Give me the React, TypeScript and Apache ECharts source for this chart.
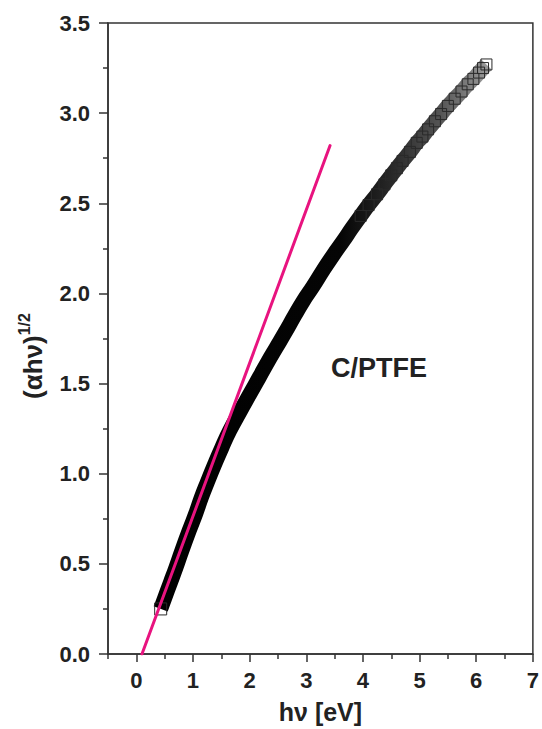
import React, { useEffect, useRef } from "react";
import * as echarts from "echarts";

// photon energy hν [eV] and (αhν)^1/2
const energy = [
  0.43, 0.5, 0.6, 0.7, 0.8, 0.94, 1.05, 1.15, 1.25, 1.38, 1.51, 1.65, 1.84, 2.0,
  2.17, 2.32, 2.47, 2.62, 2.8, 2.95, 3.12, 3.3, 3.48, 3.66, 3.8, 3.96, 4.1, 4.25,
  4.38, 4.5, 4.6, 4.7, 4.83, 4.95, 5.05, 5.15, 5.27, 5.38, 5.5, 5.62, 5.74, 5.85,
  5.95, 6.05, 6.12, 6.18,
];
const tauc = [
  0.25, 0.31, 0.395, 0.48, 0.57, 0.69, 0.78, 0.87, 0.95, 1.05, 1.145, 1.24, 1.35, 1.44,
  1.535, 1.62, 1.7, 1.78, 1.88, 1.96, 2.04, 2.13, 2.215, 2.295, 2.36, 2.43, 2.49, 2.55,
  2.605, 2.655, 2.695, 2.735, 2.785, 2.835, 2.87, 2.91, 2.955, 2.995, 3.04, 3.08, 3.12, 3.16,
  3.19, 3.225, 3.25, 3.27,
];
// linear fit line endpoints
const fitX = [0.1, 3.42];
const fitY = [0.0, 2.82];

const xLabels = [0, 1, 2, 3, 4, 5, 6, 7];
const xMinorTicks = [-0.5, 0.5, 1.5, 2.5, 3.5, 4.5, 5.5, 6.5];
const sampleName = "C/PTFE";

const FONT = "'Liberation Sans', Arial, sans-serif";

export default function App() {
  const ref = useRef<HTMLDivElement>(null);
  useEffect(() => {
    document.body.style.margin = "0";
    if (!ref.current) return;
    const chart = echarts.init(ref.current, null, { renderer: "svg" });
    const curve = energy.map((e, i) => [e, tauc[i]]);
    const fit = fitX.map((x, i) => [x, fitY[i]]);
    const axisColor = "#333";
    chart.setOption({
      animation: false,
      backgroundColor: "#fff",
      grid: {
        left: 108,
        right: 5,
        top: 23,
        bottom: 72,
        show: true,
        borderColor: axisColor,
        borderWidth: 1.5,
        backgroundColor: "transparent",
      },
      xAxis: [
        {
          type: "value",
          min: -0.5,
          max: 7,
          interval: 0.5,
          name: "hν [eV]",
          nameLocation: "middle",
          nameGap: 45,
          nameTextStyle: { fontFamily: FONT, fontWeight: "bold", fontSize: 25, color: "#222" },
          axisLine: { show: true, onZero: false, lineStyle: { color: axisColor, width: 1.5 } },
          axisTick: { show: true, inside: false, length: 8, customValues: xLabels, lineStyle: { color: axisColor, width: 1.5 } },
          axisLabel: {
            customValues: xLabels,
            margin: 15,
            fontFamily: FONT,
            fontWeight: "bold",
            fontSize: 22,
            color: "#222",
            formatter: (v: number) => String(Math.round(v)),
          },
          splitLine: { show: false },
        },
        {
          type: "value",
          min: -0.5,
          max: 7,
          interval: 0.5,
          position: "bottom",
          offset: 0,
          axisLine: { show: false },
          axisTick: { show: true, inside: false, length: 5, customValues: xMinorTicks, lineStyle: { color: axisColor, width: 1.5 } },
          axisLabel: { show: false },
          splitLine: { show: false },
        },
      ],
      yAxis: {
        type: "value",
        min: 0,
        max: 3.5,
        interval: 0.5,
        axisLine: { show: true, onZero: false, lineStyle: { color: axisColor, width: 1.5 } },
        axisTick: { show: true, inside: false, length: 9, lineStyle: { color: axisColor, width: 1.5 } },
        minorTick: { show: true, splitNumber: 2, length: 5, lineStyle: { color: axisColor, width: 1.5 } },
        axisLabel: {
          margin: 18,
          fontFamily: FONT,
          fontWeight: "bold",
          fontSize: 22,
          color: "#222",
          formatter: (v: number) => v.toFixed(1),
        },
        splitLine: { show: false },
      },
      series: [
        {
          type: "line",
          data: curve,
          smooth: 0.5,
          symbol: "rect",
          symbolSize: (v: number[]) => (v[0] < 0.45 ? 12 : v[0] > 3.9 ? 11 : 0),
          showSymbol: true,
          clip: false,
          lineStyle: {
            width: 15,
            join: "round",
            color: new echarts.graphic.LinearGradient(0, 0, 1, 0, [
              { offset: 0, color: "#000" },
              { offset: 0.55, color: "#050505" },
              { offset: 0.7, color: "#262626" },
              { offset: 0.86, color: "#555" },
              { offset: 1, color: "#999" },
            ]),
          },
          itemStyle: { color: "rgba(0,0,0,0)", borderColor: "#2a2a2a", borderWidth: 1 },
          z: 2,
        },
        {
          type: "line",
          data: fit,
          symbol: "none",
          lineStyle: { width: 3, color: "#e8137f", cap: "round" },
          z: 3,
        },
      ],
      graphic: [
        {
          type: "text",
          left: 331,
          top: 354,
          style: { text: sampleName, fontFamily: FONT, fontWeight: "bold", fontSize: 27, fill: "#222" },
        },
        {
          type: "text",
          x: 31,
          y: 356,
          rotation: Math.PI / 2,
          style: {
            text: "{a|(αhν)}{s|1/2}",
            align: "center",
            verticalAlign: "middle",
            rich: {
              a: { fontFamily: FONT, fontWeight: "bold", fontSize: 26, lineHeight: 30, fill: "#222", verticalAlign: "bottom" },
              s: { fontFamily: FONT, fontWeight: "bold", fontSize: 16, lineHeight: 16, fill: "#222", verticalAlign: "top" },
            },
          },
        },
      ],
    });
    return () => chart.dispose();
  }, []);
  return <div ref={ref} style={{ width: 542, height: 729 }} />;
}
